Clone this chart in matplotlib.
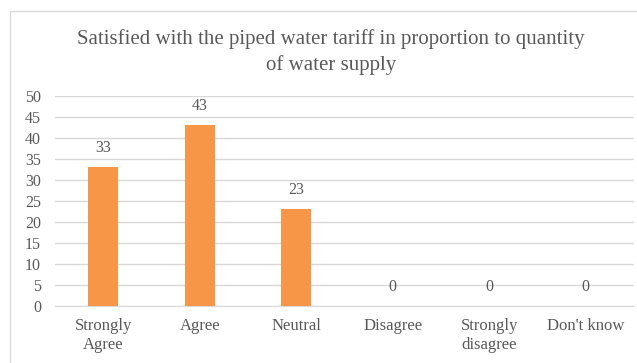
import matplotlib
matplotlib.use("Agg")
import matplotlib.pyplot as plt
from matplotlib.patches import Rectangle

categories = ["Strongly\nAgree", "Agree", "Neutral", "Disagree", "Strongly\ndisagree", "Don't know"]
values = [33, 43, 23, 0, 0, 0]
yticks = [0, 5, 10, 15, 20, 25, 30, 35, 40, 45, 50]
title = "Satisfied with the piped water tariff in proportion to quantity\nof water supply"

text_color = "#595959"
bar_color = "#F79646"
grid_color = "#D9D9D9"
plt.rcParams["font.family"] = ["Liberation Serif", "DejaVu Serif"]

fig = plt.figure(figsize=(6.37, 3.63), dpi=100)
fig.patches.append(Rectangle((10 / 637, -0.05), 1.0, 1.02, transform=fig.transFigure,
                             fill=False, edgecolor="#D9D9D9", linewidth=1.0))

ax = fig.add_axes([55 / 637, (363 - 305.7) / 363, (634 - 55) / 637, 210 / 363])
x = range(len(categories))
ax.bar(x, values, width=0.31, color=bar_color, zorder=3)
for xi, v in zip(x, values):
    ax.text(xi, v + 2.6, f"{v}", ha="center", va="bottom", fontsize=11.5, color=text_color)

ax.set_xlim(-0.5, len(categories) - 0.5)
ax.set_ylim(0, 50)
ax.set_yticks(yticks)
ax.set_yticklabels([str(t) for t in yticks], fontsize=11.5, color=text_color)
ax.set_xticks(list(x))
ax.set_xticklabels(categories, fontsize=12, color=text_color, linespacing=1.25)
ax.tick_params(axis="both", length=0)
ax.tick_params(axis="x", pad=9)
ax.tick_params(axis="y", pad=10)
for lab in ax.get_yticklabels():
    lab.set_horizontalalignment("right")
ax.grid(axis="y", color=grid_color, linewidth=1.0, zorder=0)
for s in ["top", "right", "left"]:
    ax.spines[s].set_visible(False)
ax.spines["bottom"].set_color(grid_color)

fig.text(331 / 637, 1 - 52 / 363, title, ha="center", va="center", fontsize=15,
         color=text_color, linespacing=1.4)

fig.savefig("out.png", dpi=100)
